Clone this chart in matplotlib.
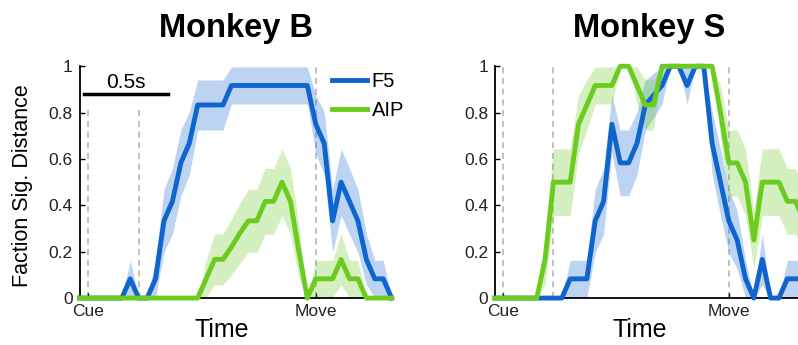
import numpy as np
import matplotlib
matplotlib.use("Agg")
import matplotlib.pyplot as plt

plt.rcParams['font.family'] = ['Liberation Sans', 'DejaVu Sans']

# time bins (s, relative to Cue), 50 ms steps
t = np.round(np.arange(38) * 0.05 - 0.05, 2)

# Monkey B
f5_b = [0, 0, 0, 0, 0, 0, .083, 0, 0, .083, .333, .417, .583, .667,
        .833, .833, .833, .833, .917, .917, .917, .917, .917, .917, .917,
        .917, .917, .917, .75, .667, .333, .5, .417, .333, .167, .083, .083, 0]
f5_b_err = [0, 0, 0, 0, 0, 0, .08, 0, 0, .08, .136, .142, .142, .136,
            .108, .108, .108, .108, .08, .08, .08, .08, .08, .08, .08,
            .08, .08, .08, .125, .136, .136, .144, .142, .136, .11, .08, .08, 0]
aip_b = [0, 0, 0, 0, 0, 0, 0, 0, 0, 0, 0, 0, 0, 0, 0,
         .083, .167, .167, .22, .28, .333, .333, .417, .417, .5, .417, .2, 0,
         .083, .083, .083, .167, .083, .083, 0, 0, 0, 0]
aip_b_err = [0, 0, 0, 0, 0, 0, 0, 0, 0, 0, 0, 0, 0, 0, 0,
             .08, .11, .11, .12, .13, .136, .136, .142, .142, .144, .142, .115, 0,
             .08, .08, .08, .11, .08, .08, 0, 0, 0, 0]

# Monkey S
f5_s = [0, 0, 0, 0, 0, 0, 0, 0, 0,
        .083, .083, .083, .333, .417, .75, .583, .583, .667, .833, .875, .917,
        1, 1, .917, 1, 1, .667, .5, .333, .25, .083, 0, .167, 0, 0, .083, .083, .083]
f5_s_err = [0, 0, 0, 0, 0, 0, 0, 0, 0,
            .08, .08, .08, .136, .142, .125, .142, .142, .136, .108, .095, .08,
            0, 0, .08, 0, 0, .136, .144, .136, .125, .08, 0, .11, 0, 0, .08, .08, .08]
aip_s = [0, 0, 0, 0, 0, 0,
         .167, .5, .5, .5, .75, .833, .917, .917, .917, 1, 1, .917, .833, .833,
         1, 1, 1, 1, 1, 1, 1, .8, .583, .583, .5, .25, .5, .5, .5, .417, .417, .333]
aip_s_err = [0, 0, 0, 0, 0, 0,
             .11, .144, .144, .144, .125, .108, .08, .08, .08, 0, 0, .08, .108, .108,
             0, 0, 0, 0, 0, 0, 0, .115, .142, .142, .144, .125, .144, .144, .144,
             .142, .142, .136]

events = [0, 0.3, 1.35]
tick_pos = [0, 1.35]
tick_lab = ['Cue', 'Move']
yticks = [0, 0.2, 0.4, 0.6, 0.8, 1]
ylabs = ['0', '0.2', '0.4', '0.6', '0.8', '1']

blue = '#0f65cd'
green = '#6bcb1f'

fig = plt.figure(figsize=(7.98, 3.45), dpi=100)
ax1 = fig.add_axes([0.0998, 0.136, 0.391, 0.672])
ax2 = fig.add_axes([0.6203, 0.136, 0.3872, 0.672])


def panel(ax, f5, f5e, aip, aipe, title, cue_top, xlab_x):
    f5 = np.array(f5); f5e = np.array(f5e)
    aip = np.array(aip); aipe = np.array(aipe)
    # event markers
    for i, ev in enumerate(events):
        top = cue_top if i < 2 else 1
        ax.plot([ev, ev], [0, top], ls=(0, (4, 3)), color='#b0b0b0', lw=1.1, zorder=1)
    ax.fill_between(t, f5 - f5e, f5 + f5e, color=blue, alpha=0.28, lw=0, zorder=2)
    ax.fill_between(t, aip - aipe, aip + aipe, color=green, alpha=0.28, lw=0, zorder=2)
    ax.plot(t, f5, color=blue, lw=3.5, label='F5', zorder=3, clip_on=False)
    ax.plot(t, aip, color=green, lw=3.5, label='AIP', zorder=4, clip_on=False)
    ax.set_xlim(-0.05, 1.8)
    ax.set_ylim(0, 1)
    ax.set_xticks(tick_pos)
    ax.set_xticklabels(tick_lab)
    ax.set_yticks(yticks)
    ax.set_yticklabels(ylabs)
    ax.tick_params(direction='in', length=3.5, width=1, labelsize=12.5,
                   labelcolor='#222222', pad=5)
    ax.tick_params(axis='x', pad=4)
    for s in ['top', 'right']:
        ax.spines[s].set_visible(False)
    for s in ['left', 'bottom']:
        ax.spines[s].set_linewidth(1.3)
    ax.set_xlabel('Time', fontsize=18)
    ax.xaxis.set_label_coords(xlab_x, -0.085)
    ax.xaxis.label.set_va('top')
    ax.set_title(title, fontsize=23.5, fontweight='bold', pad=21)


panel(ax1, f5_b, f5_b_err, aip_b, aip_b_err, 'Monkey B', 0.82, 0.455)
panel(ax2, f5_s, f5_s_err, aip_s, aip_s_err, 'Monkey S', 1, 0.47)

ax1.set_ylabel('Faction Sig. Distance', fontsize=15.5)
ax1.yaxis.set_label_coords(-0.15, 0.485)

# scale bar
ax1.plot([-0.025, 0.475], [0.88, 0.88], color='k', lw=2.5, zorder=5)
ax1.text(0.225, 0.905, '0.5s', ha='center', va='baseline', fontsize=15)

ax1.legend(loc='upper left', bbox_to_anchor=(0.81, 0.977), frameon=False,
           fontsize=14.5, borderaxespad=0, borderpad=0, handlelength=1.7,
           handletextpad=0.25, labelspacing=0.5)

fig.savefig('out.png', dpi=100)
